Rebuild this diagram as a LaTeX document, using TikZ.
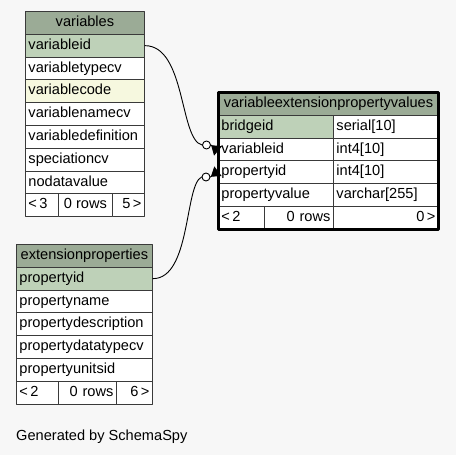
\documentclass[tikz,border=0pt]{standalone}
\usepackage{fontspec}
\setmainfont{Liberation Sans}
\usepackage{tikz}
\usetikzlibrary{arrows.meta}
\definecolor{hdrgreen}{HTML}{9BAB96}
\definecolor{pkgreen}{HTML}{BED1B8}
\definecolor{idxyellow}{HTML}{F6F8DF}
\definecolor{bggray}{HTML}{F7F7F7}
\definecolor{gridgray}{HTML}{3A3A3A}

\tikzset{
  cell/.style={draw=gridgray,line width=0.9pt,anchor=north west,minimum height=22.8pt,
    inner xsep=3pt,inner ysep=0pt,text height=10.6pt,text depth=3.2pt,
    font=\fontsize{14.6}{16}\selectfont},
  lcell/.style={cell,minimum width=#1,text width=#1-6pt,align=left},
  rcell/.style={cell,minimum width=#1,text width=#1-6pt,align=right},
  hcell/.style={cell,minimum width=#1,fill=hdrgreen},
  ring/.style={circle,draw,fill=white,line width=0.9pt,minimum size=8pt,inner sep=0pt},
  crow/.style={line width=0.9pt,-{Triangle[reversed,length=9pt,width=12pt]}}
}

\begin{document}
\begin{tikzpicture}[x=1pt,y=-1pt,line cap=round,line join=round]
      \fill[bggray] (0,0) rectangle (456,455);
      \useasboundingbox (0,0) rectangle (456,455);
      % variables
      \node[hcell=119pt] (v-hdr) at (25,11) {variables};
      \foreach \n/\t/\c [count=\i] in {v-id/variableid/pkgreen,v-type/variabletypecv/white,
          v-code/variablecode/idxyellow,v-name/variablenamecv/white,
          v-def/variabledefinition/white,v-spec/speciationcv/white,v-nodata/nodatavalue/white}
      \node[lcell=119pt,fill=\c] (\n) at (25,{11+\i*22.8}) {\t};
      \node[lcell=33pt,fill=white] (v-prev) at (25,{11+8*22.8}) {<\,3};
      \node[cell,minimum width=54pt,fill=white] (v-rows) at (58,{11+8*22.8}) {0 rows};
      \node[rcell=32pt,fill=white] (v-next) at (112,{11+8*22.8}) {5\,>};
      % extensionproperties
      \node[hcell=136pt] (e-hdr) at (16,244) {extensionproperties};
      \foreach \n/\t/\c [count=\i] in {e-id/propertyid/pkgreen,e-name/propertyname/white,
          e-desc/propertydescription/white,e-type/propertydatatypecv/white,
          e-unit/propertyunitsid/white}
      \node[lcell=136pt,fill=\c] (\n) at (16,{244+\i*22.8}) {\t};
      \node[lcell=42pt,fill=white] (e-prev) at (16,{244+6*22.8}) {<\,2};
      \node[rcell=58pt,fill=white] (e-rows) at (58,{244+6*22.8}) {0 rows};
      \node[rcell=36pt,fill=white] (e-next) at (116,{244+6*22.8}) {6\,>};
      % variableextensionpropertyvalues
      \node[hcell=220pt] (p-hdr) at (218,92) {variableextensionpropertyvalues};
      \foreach \n/\t/\d/\c [count=\i] in {p-bid/bridgeid/serial[10]/pkgreen,
          p-vid/variableid/int4[10]/white,p-pid/propertyid/int4[10]/white,
          p-val/propertyvalue/varchar[255]/white}
      {
        \node[lcell=115pt,fill=\c] (\n) at (218,{92+\i*22.8}) {\t};
        \node[lcell=105pt,fill=white] (\n-t) at (333,{92+\i*22.8}) {\d};
      }
      \node[lcell=46pt,fill=white] (p-prev) at (218,{92+5*22.8}) {<\,2};
      \node[rcell=69pt,fill=white] (p-rows) at (264,{92+5*22.8}) {0 rows};
      \node[rcell=105pt,fill=white] (p-next) at (333,{92+5*22.8}) {0\,>};
      \draw[line width=3pt,line cap=butt] (p-hdr.north west) rectangle (p-next.south east);
      % relations
      \node[ring] (r-var) at (206.5,145) {};
      \node[ring] (r-prop) at (206,177) {};
      \draw[line width=0.9pt] (v-id.east) .. controls +(41,0) and +(-22.5,-5) .. (r-var.west);
      \draw[line width=0.9pt] (e-id.east) .. controls +(38,0) and +(-17,8) .. (r-prop.west);
      \draw[crow] (r-var.east) -- ([yshift=-1.5pt]p-vid.west);
      \draw[crow] (r-prop.east) -- ([yshift=1pt]p-pid.west);
      \node[anchor=west,inner sep=0pt,font=\fontsize{14.6}{16}\selectfont] (gen) at (16,437) {Generated by SchemaSpy};
\end{tikzpicture}
\end{document}
